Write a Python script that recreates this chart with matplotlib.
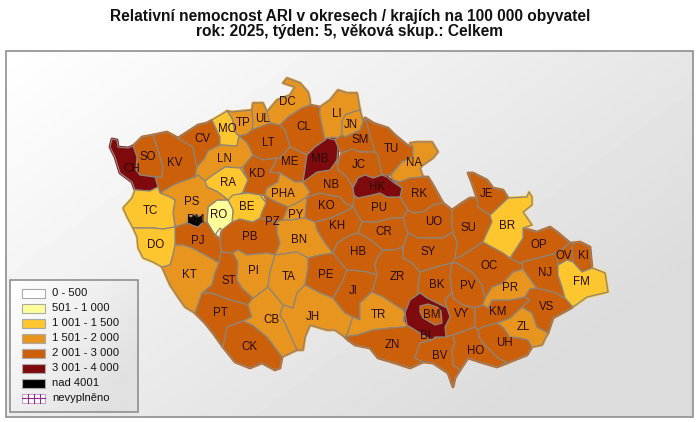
import numpy as np
import matplotlib
matplotlib.use("Agg")
import matplotlib.pyplot as plt
from matplotlib.patches import Polygon, Rectangle

plt.rcParams['font.family'] = ['Liberation Sans', 'DejaVu Sans']

title = "Relativní nemocnost ARI v okresech / krajích na 100 000 obyvatel\nrok: 2025, týden: 5, věková skup.: Celkem"

legend_labels = ["0 - 500", "501 - 1 000", "1 001 - 1 500", "1 501 - 2 000",
                 "2 001 - 3 000", "3 001 - 4 000", "nad 4001", "nevyplněno"]
colors = ["#FFFFFF", "#FFFF99", "#FDC52E", "#E8951F", "#CC600A", "#7F0A0E", "#000000", "#FFFFFF"]

# class of each district = index into colors
class_1 = ["RO"]
class_2 = ["TC", "DO", "RA", "BE", "MO", "BR", "FM"]
class_3 = ["PS", "LN", "TP", "UL", "DC", "LI", "JN", "PHA", "PY", "BN", "KT", "PI", "TA",
           "CB", "JH", "TR", "NA", "PR", "ZL"]
class_5 = ["CH", "MB", "HK", "BI"]
class_6 = ["PM"]

# district outlines, in image pixels
shapes = {
    "SO": [(133,146),(142,137),(153,135),(157,147),(163,167),(162,177),(155,177),(140,175),(136,170),(137,157)],
    "KV": [(153,135),(167,132),(178,138),(193,147),(197,167),(195,177),(178,183),(160,193),(158,187),(155,177),(162,177),(163,167),(157,147)],
    "CH": [(112,139),(117,140),(118,147),(128,148),(133,146),(137,157),(136,170),(140,175),(155,177),(158,187),(150,191),(135,190),(132,182),(120,173),(115,157),(110,147)],
    "CV": [(178,138),(198,125),(207,123),(212,120),(220,137),(220,145),(208,151),(205,158),(197,167),(193,147)],
    "MO": [(212,120),(227,111),(232,118),(235,132),(239,136),(237,146),(220,145),(220,137)],
    "TP": [(227,111),(232,112),(252,110),(253,123),(252,130),(247,134),(239,136),(235,132),(232,118)],
    "UL": [(252,110),(253,103),(263,103),(267,112),(270,123),(252,130),(253,123)],
    "DC": [(267,112),(277,100),(290,95),(295,87),(283,83),(287,78),(300,83),(308,92),(310,100),(310,105),(302,108),(288,117),(280,125),(270,123)],
    "CL": [(302,108),(310,105),(320,107),(320,115),(325,140),(315,147),(307,155),(290,147),(285,130),(280,125),(288,117)],
    "LT": [(247,134),(252,130),(270,123),(280,125),(285,130),(290,147),(280,158),(277,158),(263,160),(253,155),(247,143),(239,136)],
    "LN": [(237,146),(239,136),(247,143),(253,155),(243,167),(240,168),(225,167),(213,175),(205,181),(198,175),(195,177),(197,167),(205,158),(208,151),(220,145)],
    "RA": [(225,167),(240,168),(248,180),(243,192),(235,198),(228,200),(218,192),(207,187),(205,181),(213,175)],
    "KD": [(243,167),(253,155),(263,160),(277,158),(275,163),(270,172),(280,173),(278,182),(267,188),(265,195),(260,195),(248,193),(243,192),(248,180)],
    "ME": [(277,158),(280,158),(290,147),(307,155),(303,182),(295,182),(280,173),(270,172),(275,163)],
    "PHA": [(267,188),(278,182),(280,173),(295,182),(303,182),(310,192),(307,197),(297,203),(288,207),(272,200),(265,195)],
    "PZ": [(260,218),(262,212),(266,203),(265,195),(272,200),(288,207),(283,220),(277,222)],
    "PY": [(288,207),(297,203),(307,197),(305,218),(290,220),(283,220)],
    "BN": [(277,222),(283,220),(290,220),(305,218),(315,222),(317,230),(325,243),(333,253),(320,255),(308,258),(297,252),(275,255),(280,243),(277,233)],
    "PB": [(222,230),(233,220),(240,219),(253,222),(260,218),(277,222),(277,233),(280,243),(275,255),(267,253),(247,255),(238,250),(233,253),(221,252),(220,240)],
    "BE": [(233,195),(248,193),(260,195),(266,203),(262,212),(260,218),(253,222),(240,219),(232,222),(233,210),(228,200)],
    "RO": [(208,207),(217,200),(228,200),(233,210),(232,222),(222,230),(220,228),(215,235),(207,222)],
    "PS": [(170,187),(178,183),(195,177),(198,175),(205,181),(207,187),(218,192),(228,200),(217,200),(208,207),(207,222),(187,223),(175,227),(173,213),(175,200),(170,197),(160,193)],
    "PJ": [(175,227),(187,223),(207,222),(215,235),(220,240),(221,252),(219,263),(205,255),(192,248),(183,245),(175,245),(175,233)],
    "PM": [(188,215),(191,217),(194,214),(197,217),(202,215),(203,222),(198,227),(192,225),(188,223)],
    "TC": [(123,208),(132,198),(135,190),(150,191),(158,187),(160,193),(170,197),(175,200),(173,213),(175,227),(163,229),(153,228),(133,228),(127,217)],
    "DO": [(133,228),(153,228),(163,229),(175,227),(175,233),(175,245),(173,255),(170,265),(162,267),(153,262),(143,258),(138,248),(137,237)],
    "KT": [(175,245),(183,245),(192,248),(205,255),(219,263),(215,273),(212,285),(202,293),(195,313),(185,307),(178,297),(170,285),(162,267),(170,265),(173,255)],
    "ST": [(221,252),(233,253),(238,262),(237,280),(242,288),(253,298),(248,305),(227,299),(212,293),(202,293),(212,285),(215,273),(219,263)],
    "PI": [(238,250),(247,255),(267,253),(275,255),(270,272),(268,287),(255,297),(253,298),(242,288),(237,280),(238,262),(233,253)],
    "TA": [(275,255),(297,252),(308,258),(308,268),(305,285),(297,293),(293,308),(283,305),(268,287),(270,272)],
    "PE": [(308,258),(320,255),(333,253),(347,270),(342,283),(333,298),(320,293),(305,285),(308,268)],
    "PT": [(202,293),(212,293),(227,299),(248,305),(252,317),(243,321),(227,327),(223,347),(213,333),(205,323),(195,313)],
    "CB": [(253,298),(255,297),(268,287),(283,305),(280,315),(285,323),(297,350),(282,357),(267,337),(252,325),(243,321),(252,317),(248,305)],
    "CK": [(243,321),(252,325),(267,337),(282,357),(280,368),(275,370),(262,363),(250,368),(235,362),(223,347),(227,327)],
    "JH": [(283,305),(293,308),(297,293),(305,285),(320,293),(333,298),(345,313),(353,317),(350,325),(348,333),(345,337),(335,330),(327,330),(310,325),(305,337),(303,350),(297,350),(285,323),(280,315)],
    "JI": [(347,270),(353,270),(368,272),(377,275),(372,292),(360,303),(360,320),(353,317),(345,313),(333,298),(342,283)],
    "HB": [(333,253),(337,243),(350,235),(358,233),(368,238),(383,250),(377,258),(375,265),(377,275),(368,272),(353,270),(347,270)],
    "KH": [(315,222),(330,218),(342,213),(353,207),(362,222),(358,233),(350,235),(337,243),(333,253),(325,243),(317,230)],
    "KO": [(307,197),(320,193),(340,197),(345,203),(353,207),(342,213),(330,218),(315,222),(305,218)],
    "NB": [(303,182),(317,172),(330,170),(337,160),(338,170),(347,177),(353,187),(354,195),(353,207),(345,203),(340,197),(320,193),(307,197),(310,192)],
    "LI": [(320,107),(330,100),(338,90),(347,93),(357,93),(360,110),(353,112),(345,115),(342,122),(342,135),(338,138),(333,137),(327,138),(325,140),(320,115)],
    "JN": [(342,135),(342,122),(345,115),(353,112),(360,110),(363,122),(360,130),(345,137)],
    "SM": [(338,147),(335,140),(338,138),(342,135),(345,137),(360,130),(363,122),(365,118),(373,123),(375,152),(360,152),(352,149),(342,153),(338,148)],
    "MB": [(307,155),(315,147),(325,140),(327,138),(335,140),(338,147),(337,160),(330,170),(317,172),(303,182)],
    "JC": [(338,162),(342,153),(352,149),(360,152),(375,152),(378,155),(382,175),(373,178),(365,175),(358,178),(353,187),(347,177),(338,170),(337,160)],
    "TU": [(365,118),(373,123),(388,128),(395,135),(407,145),(413,147),(413,157),(402,162),(393,172),(391,175),(382,175),(378,155),(375,152)],
    "NA": [(410,143),(417,142),(432,142),(438,152),(433,158),(423,165),(420,168),(423,177),(410,178),(400,182),(393,180),(391,175),(402,162),(413,157),(413,147)],
    "RK": [(393,180),(400,182),(410,178),(423,177),(428,177),(433,185),(443,203),(433,205),(423,212),(413,213),(408,210),(400,197),(402,188)],
    "PU": [(354,195),(358,198),(372,195),(380,193),(387,197),(400,197),(408,210),(403,218),(392,218),(377,222),(362,222),(353,207)],
    "HK": [(353,188),(358,178),(365,175),(373,178),(382,175),(387,177),(393,182),(402,188),(400,197),(387,197),(380,193),(372,195),(358,198),(354,195)],
    "CR": [(362,222),(377,222),(392,218),(403,218),(408,233),(403,247),(395,250),(383,250),(368,238),(358,233)],
    "UO": [(408,210),(413,213),(423,212),(433,205),(443,203),(452,210),(452,225),(453,232),(443,238),(418,238),(408,233),(403,218)],
    "SU": [(452,210),(462,203),(470,198),(477,198),(478,207),(490,215),(492,222),(485,237),(483,242),(460,257),(455,258),(457,243),(453,232),(452,225)],
    "SY": [(408,233),(418,238),(443,238),(453,232),(457,243),(455,258),(452,263),(440,266),(420,272),(412,263),(403,258),(403,247)],
    "ZR": [(377,258),(383,250),(395,250),(403,247),(403,258),(412,263),(420,272),(418,287),(418,297),(408,308),(403,310),(383,297),(372,292),(377,275),(375,265)],
    "BK": [(420,272),(440,266),(452,263),(450,277),(452,292),(445,300),(447,308),(435,302),(427,298),(420,293),(418,297),(418,287)],
    "PV": [(452,263),(457,263),(473,273),(482,285),(485,298),(483,305),(475,308),(463,305),(453,298),(452,292),(450,277)],
    "VY": [(452,292),(453,298),(463,305),(475,308),(475,327),(453,335),(446,337),(445,327),(450,317),(447,308),(445,300)],
    "TR": [(345,337),(348,333),(350,325),(353,317),(360,320),(360,303),(372,292),(383,297),(403,310),(405,313),(403,320),(407,325),(405,327),(390,328),(373,330),(357,335),(350,336)],
    "ZN": [(345,337),(350,336),(357,335),(373,330),(390,328),(405,327),(407,325),(420,333),(432,340),(420,343),(415,358),(423,362),(410,368),(395,363),(378,358),(370,348),(355,345),(348,340)],
    "BV": [(420,343),(432,340),(435,337),(446,337),(453,335),(455,343),(452,350),(453,365),(460,370),(455,378),(453,387),(448,373),(433,363),(423,362),(415,358)],
    "HO": [(453,335),(475,327),(478,330),(479,337),(483,343),(497,357),(507,363),(497,367),(480,362),(468,358),(460,370),(453,365),(452,350),(455,343)],
    "UH": [(482,327),(497,323),(503,327),(510,337),(520,338),(528,340),(532,347),(527,355),(507,363),(497,357),(483,343),(479,337),(478,330)],
    "ZL": [(497,323),(510,318),(522,307),(532,313),(537,327),(548,333),(542,345),(532,347),(528,340),(520,338),(510,337),(503,327)],
    "KM": [(475,308),(483,305),(488,308),(492,300),(510,300),(525,297),(530,300),(522,307),(510,318),(497,323),(482,327),(478,330),(475,327)],
    "PR": [(483,305),(485,298),(492,287),(503,283),(513,272),(523,269),(533,283),(537,288),(530,289),(525,297),(510,300),(492,300),(488,308)],
    "OC": [(455,258),(460,257),(483,242),(503,253),(510,258),(520,263),(522,262),(523,269),(513,272),(503,283),(492,287),(485,298),(482,285),(473,273),(457,263),(452,263)],
    "VS": [(530,300),(525,297),(530,289),(537,288),(553,292),(565,298),(573,307),(553,318),(548,333),(537,327),(532,313),(522,307)],
    "NJ": [(523,269),(522,262),(557,253),(558,265),(558,275),(562,287),(565,298),(553,292),(537,288),(533,283)],
    "OP": [(510,258),(523,238),(523,228),(537,232),(550,227),(557,232),(570,243),(557,253),(522,262),(520,263)],
    "OV": [(570,243),(573,243),(572,250),(573,262),(567,260),(558,265),(557,253)],
    "KI": [(573,243),(580,242),(590,247),(592,268),(582,272),(573,262),(572,250)],
    "FM": [(558,265),(567,260),(573,262),(582,272),(592,268),(605,273),(608,292),(587,297),(573,307),(565,298),(562,287),(558,275)],
    "BR": [(485,237),(492,222),(490,215),(508,198),(527,197),(529,192),(532,197),(532,205),(523,212),(532,225),(523,228),(523,238),(510,258),(503,253),(483,242)],
    "JE": [(468,173),(473,173),(487,180),(493,188),(503,190),(508,198),(490,215),(478,207),(477,198),(472,183)],
    "BI": [(420,293),(427,298),(435,302),(447,308),(450,317),(445,327),(446,337),(435,337),(432,340),(420,333),(407,325),(405,313),(410,300)],
    "BM": [(420,306),(428,304),(437,307),(441,311),(442,323),(435,325),(423,318),(420,312)],
}

label_pos = {
    "CH": (132,169), "SO": (148,157), "KV": (175,163), "CV": (202,139), "MO": (227,129), "TP": (243,123),
    "UL": (262,119), "DC": (287,102), "CL": (304,127), "LT": (268,143), "LN": (224,159), "RA": (228,183),
    "KD": (257,174), "ME": (290,162), "MB": (320,159), "PHA": (283,194), "NB": (331,185), "PS": (192,202),
    "TC": (150,211), "BE": (247,207), "RO": (219,215), "PM": (196,220), "PJ": (198,241), "PB": (250,237),
    "PZ": (272,222), "PY": (296,215), "BN": (299,240), "KO": (326,206), "KH": (337,226), "DO": (156,245),
    "KT": (189,275), "ST": (229,281), "PI": (253,271), "TA": (289,277), "PE": (326,275), "PT": (220,313),
    "CB": (271,320), "JH": (313,317), "CK": (249,347), "JI": (353,291), "HB": (358,252), "ZR": (397,277),
    "TR": (378,315), "ZN": (392,345), "BK": (437,285), "BM": (432,315), "BI": (425,336), "VY": (462,314),
    "BV": (440,356), "HO": (476,351), "UH": (504,343), "ZL": (523,327), "KM": (498,312), "PR": (510,288),
    "PV": (468,286), "OC": (489,266), "VS": (547,307), "NJ": (545,273), "OP": (539,245), "OV": (564,256),
    "KI": (583,256), "FM": (581,282), "SY": (428,252), "CR": (384,232), "PU": (379,208), "HK": (377,187),
    "JC": (359,165), "SM": (360,140), "JN": (351,125), "LI": (337,114), "TU": (391,149), "NA": (414,163),
    "RK": (419,194), "UO": (434,222), "SU": (468,228), "JE": (487,194), "BR": (507,226),
}


def district_color(code):
    if code in class_1:
        return colors[1]
    if code in class_2:
        return colors[2]
    if code in class_3:
        return colors[3]
    if code in class_5:
        return colors[5]
    if code in class_6:
        return colors[6]
    return colors[4]


def fade_box(ax, x0, y0, x1, y1, amount, zorder):
    gx, gy = np.meshgrid(np.linspace(0, 1, 200), np.linspace(0, 1, 120))
    fade = 1.0 - amount * np.clip(gx * 0.7 + gy * 0.5, 0, 1)
    ax.imshow(fade, extent=(x0, x1, y1, y0), cmap='gray', vmin=0, vmax=1, aspect='auto', zorder=zorder)
    ax.add_patch(Rectangle((x0, y0), x1 - x0, y1 - y0, fill=False, ec="#8F8F8F", lw=1.2, zorder=zorder + 0.1))


fig = plt.figure(figsize=(7.0, 4.22), dpi=100)
ax = fig.add_axes([0, 0, 1, 1])

# panel with the grey diagonal fade
fade_box(ax, 6, 51, 693, 417, 0.14, 0)

# same colour stroke underneath closes the slivers left between traced outlines
for code, pts in shapes.items():
    ax.add_patch(Polygon(pts, closed=True, fc=district_color(code), ec=district_color(code), lw=2.0,
                         joinstyle='round', zorder=2))
for code, pts in shapes.items():
    ax.add_patch(Polygon(pts, closed=True, fc=district_color(code), ec="#8E8578", lw=0.9,
                         joinstyle='round', zorder=2.5))

for code, (lx, ly) in label_pos.items():
    ax.text(lx, ly, code, ha='center', va='center', fontsize=8.3, color="#2A0A00", zorder=3)

# legend
fade_box(ax, 10, 280, 138, 412, 0.12, 4)
for i, lab in enumerate(legend_labels):
    y = 293 + 15 * i
    edge = "#C8A0C8" if lab == "nevyplněno" else "#A9A9A9"
    ax.add_patch(Rectangle((22, y - 4.5), 23, 9, fc=colors[i], ec=edge, lw=0.8, zorder=5))
    if lab == "nevyplněno":
        ax.plot([22, 45], [y, y], color="#8E2C8E", lw=0.8, zorder=6)
        for vx in (28, 34, 40):
            ax.plot([vx, vx], [y - 4.5, y + 4.5], color="#8E2C8E", lw=0.8, zorder=6)
    ax.text(52, y, lab, ha='left', va='center', fontsize=8.1, color="#111111", zorder=5)

ax.text(350, 24, title, ha='center', va='center', fontsize=11.2, fontweight='bold',
        linespacing=1.02, color="#111111", zorder=5)

ax.set_xlim(0, 700)
ax.set_ylim(422, 0)
ax.axis('off')

fig.savefig("out.png", dpi=100)
